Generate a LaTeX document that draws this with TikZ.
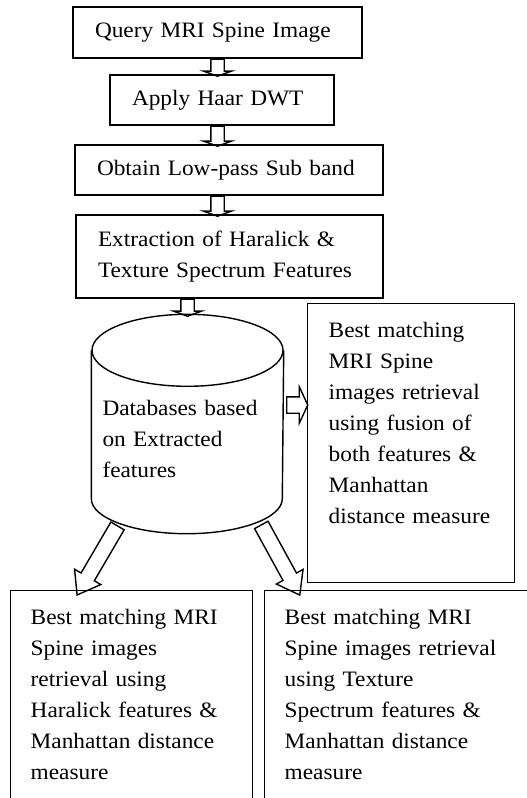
\documentclass[tikz,border=0pt]{standalone}
\usepackage{fontspec}
\setmainfont{Liberation Serif}[FakeStretch=1.06]
\usetikzlibrary{shapes.arrows,calc}

\tikzset{
  txtfont/.style={font=\fontsize{22}{31}\selectfont},
  flowbox/.style={draw, rectangle, align=left, inner xsep=22pt, inner ysep=4pt, txtfont},
  resbox/.style={draw, rectangle, align=left, anchor=north west, inner xsep=20pt, inner ysep=18pt, text height=16pt, txtfont},
  dbtext/.style={minimum width=191pt, minimum height=218pt, text width=170pt, align=left, text height=48pt, text depth=66pt, inner sep=0pt, txtfont},
  downarrow/.style={single arrow, draw, rotate=-90, inner xsep=0pt, inner ysep=6pt, single arrow head extend=7.5pt, single arrow tip angle=140},
  rightarrow/.style={single arrow, draw, inner xsep=0pt, inner ysep=7.5pt, single arrow head extend=10pt, single arrow tip angle=130},
  bigarrow/.style={single arrow, draw, sloped, allow upside down, inner xsep=0pt, inner ysep=7pt, single arrow head extend=7.5pt, single arrow tip angle=72}
}

\begin{document}
\begin{tikzpicture}[x=1pt, y=-1pt, line width=1.4pt]
    \path[use as bounding box, clip] (0,0) rectangle (527,798);

    % query steps
    \node[flowbox, text width=245pt, minimum height=51pt] (query) at (217.5,32.5) {Query MRI Spine Image};
    \node[flowbox, text width=180pt, minimum height=50pt] (haar) at (222,100) {Apply Haar DWT};
    \node[flowbox, text width=264pt, minimum height=50pt] (lowpass) at (229,170) {Obtain Low-pass Sub band};
    \node[flowbox, text width=263pt, minimum height=83pt] (extract) at (229.5,256.5) {Extraction of Haralick \&\\Texture Spectrum Features};

    % feature database (cylinder)
    \node[dbtext] (db) at (187.5,424) {Databases based\\on Extracted\\features};
    \draw ([yshift=-36pt]db.north) ellipse [x radius=95.5pt, y radius=36pt];
    \draw ([yshift=-36pt]db.north west) -- ([yshift=35pt]db.south west)
        arc [start angle=180, end angle=360, x radius=95.5pt, y radius=35pt]
        -- ([yshift=-36pt]db.north east);

    % retrieval results
    \node[resbox, text width=165pt, inner xsep=21pt, text depth=227pt] (fusion) at (307,303) {Best matching\\MRI Spine\\images retrieval\\using fusion of\\both features \&\\Manhattan\\distance measure};
    \node[resbox, text width=202pt, text depth=158pt] (haral) at (10,590) {Best matching MRI\\Spine images\\retrieval using\\Haralick features \&\\Manhattan distance\\measure};
    \node[resbox, text width=250pt, text depth=158pt] (texture) at (264,590) {Best matching MRI\\Spine images retrieval\\using Texture\\Spectrum features \&\\Manhattan distance\\measure};

    % arrows
    \path (query.south) -- node[downarrow, minimum height=17pt] (a1) {} (haar.north -| query.south);
    \path (haar.south -| query.south) -- node[downarrow, minimum height=20pt] (a2) {} (lowpass.north -| query.south);
    \path (lowpass.south -| query.south) -- node[downarrow, minimum height=20pt] (a3) {} (extract.north -| query.south);
    \path (extract.south -| db.north) -- node[downarrow, minimum height=17pt] (a4) {} (db.north);
    \path ([yshift=19pt]db.east) -- node[rightarrow, minimum height=21pt] (a5) {} ([yshift=19pt]db.east -| fusion.west);
    \path ([xshift=-67.5pt, yshift=12pt]db.south) -- node[bigarrow, minimum height=80pt] (a6) {} ([xshift=70pt]haral.north west);
    \path ([xshift=71.5pt, yshift=13pt]db.south) -- node[bigarrow, minimum height=80pt] (a7) {} ([xshift=33pt]texture.north west);
\end{tikzpicture}
\end{document}
